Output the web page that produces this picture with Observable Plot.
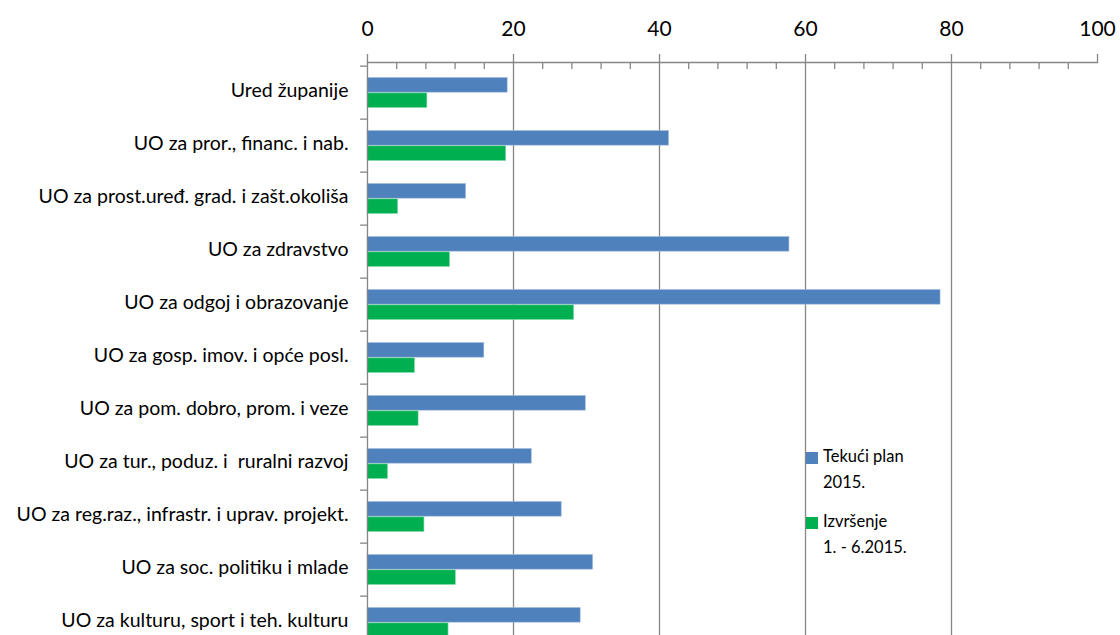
<!DOCTYPE html>
<html>
<head>
<meta charset="utf-8">
<script src="https://cdn.jsdelivr.net/npm/d3@7"></script>
<script src="https://cdn.jsdelivr.net/npm/@observablehq/plot@0.6"></script>
<style>
  html, body { margin: 0; padding: 0; background: #fff; overflow: hidden; }
  #wrap { position: relative; width: 1120px; height: 635px; }
  .legend { position: absolute; font-family: Lato, sans-serif; font-size: 16.5px; color: #000; line-height: 26px; }
  .legend .sw { position: absolute; width: 12px; height: 12px; }
</style>
</head>
<body>
<div id="wrap"></div>
<script>
const categories = [
  "Ured županije",
  "UO za pror., financ. i nab.",
  "UO za prost.uređ. grad. i zašt.okoliša",
  "UO za zdravstvo",
  "UO za odgoj i obrazovanje",
  "UO za gosp. imov. i opće posl.",
  "UO za pom. dobro, prom. i veze",
  "UO za tur., poduz. i  ruralni razvoj",
  "UO za reg.raz., infrastr. i uprav. projekt.",
  "UO za soc. politiku i mlade",
  "UO za kulturu, sport i teh. kulturu"
];
const seriesNames = ["Tekući plan 2015.", "Izvršenje 1. - 6.2015."];
const plan2015 = [19.2, 41.3, 13.5, 57.8, 78.5, 16.0, 29.9, 22.5, 26.6, 30.9, 29.2];
const izvrsenje = [8.2, 19.0, 4.2, 11.3, 28.3, 6.5, 7.0, 2.8, 7.8, 12.1, 11.1];
const majorTicks = [0, 20, 40, 60, 80, 100];
const gridTicks = [20, 40, 60, 80];
const minorTicks = d3.range(0, 101, 4).filter(v => v % 20 !== 0);

const colors = ["#4F81BD", "#00B050"];

const planData = categories.map((c, i) => ({cat: c, value: plan2015[i]}));
const izvData = categories.map((c, i) => ({cat: c, value: izvrsenje[i]}));

const band = 53.7;
const barH = 15.3;
const outer = (band - 2 * barH) / 2;
const axisColor = "#868686";

const chart = Plot.plot({
  width: 1120,
  height: 635,
  marginTop: 62,
  marginLeft: 367,
  marginRight: 23,
  marginBottom: 0,
  style: {fontFamily: "Lato, sans-serif", background: "white", overflow: "visible"},
  x: {domain: [0, 100], range: [367, 1097]},
  y: {domain: categories, range: [62, 62 + band * categories.length], padding: 0},
  marks: [
    Plot.ruleX(gridTicks, {stroke: axisColor, strokeWidth: 1.3}),
    Plot.ruleX(minorTicks, {stroke: axisColor, strokeWidth: 1.3, insetBottom: 635 - 62 - 7}),
    Plot.barX(planData, {y: "cat", x: "value", fill: colors[0], stroke: "#9db8dc", strokeWidth: 0.6, insetTop: outer, insetBottom: outer + barH}),
    Plot.barX(izvData, {y: "cat", x: "value", fill: colors[1], stroke: "#7fd8a6", strokeWidth: 0.6, insetTop: outer + barH, insetBottom: outer}),
    Plot.ruleY(categories, {y: d => d, x1: -0.95, x2: 0, dy: -band / 2, stroke: axisColor, strokeWidth: 1.3}),
    Plot.frame({anchor: "top", stroke: axisColor, strokeWidth: 1.3}),
    Plot.frame({anchor: "left", stroke: axisColor, strokeWidth: 1.3}),
    Plot.axisX({anchor: "top", ticks: majorTicks, tickSize: 9, tickPadding: 18, fontSize: 21, stroke: axisColor, strokeWidth: 1.3, color: "#000", label: null, tickFormat: d => String(d)}),
    Plot.axisY({anchor: "left", tickSize: 0, tickPadding: 19, fontSize: 19.5, dy: -2, color: "#000", label: null})
  ]
});

const wrap = document.getElementById("wrap");
wrap.appendChild(chart);

const legend = [
  {name: "Tekući plan", line2: "2015.", color: colors[0], top: 443},
  {name: "Izvršenje", line2: "1. - 6.2015.", color: colors[1], top: 508}
];
legend.forEach(l => {
  const d = document.createElement("div");
  d.className = "legend";
  d.style.left = "823px";
  d.style.top = l.top + "px";
  d.innerHTML = l.name + "<br>" + l.line2;
  const sw = document.createElement("div");
  sw.className = "sw";
  sw.style.background = l.color;
  sw.style.left = "-17px";
  sw.style.top = "9px";
  d.appendChild(sw);
  wrap.appendChild(d);
});
</script>
</body>
</html>
